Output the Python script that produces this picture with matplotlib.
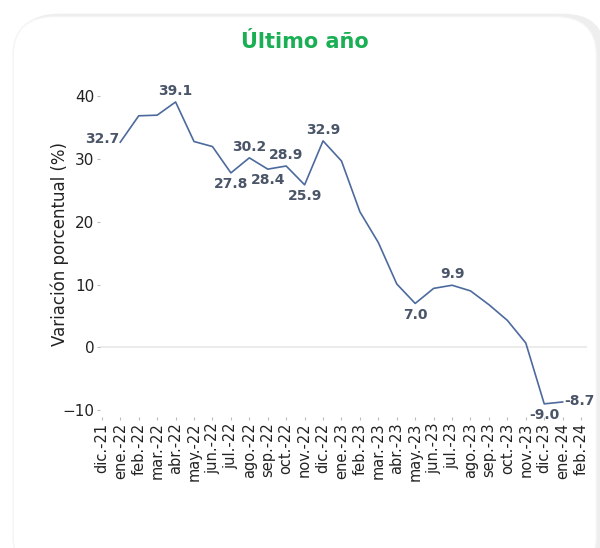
import numpy as np
import matplotlib.pyplot as plt
from matplotlib.patches import FancyBboxPatch

# meses (eje categórico)
meses = ['dic.-21', 'ene.-22', 'feb.-22', 'mar.-22', 'abr.-22', 'may.-22', 'jun.-22',
         'jul.-22', 'ago.-22', 'sep.-22', 'oct.-22', 'nov.-22', 'dic.-22', 'ene.-23',
         'feb.-23', 'mar.-23', 'abr.-23', 'may.-23', 'jun.-23', 'jul.-23', 'ago.-23',
         'sep.-23', 'oct.-23', 'nov.-23', 'dic.-23', 'ene.-24', 'feb.-24']

# variación porcentual (sin dato en los extremos)
variacion = [np.nan, 32.7, 36.9, 37.0, 39.1, 32.8, 32.0, 27.8, 30.2, 28.4, 28.9, 25.9,
             32.9, 29.7, 21.6, 16.7, 10.1, 7.0, 9.4, 9.9, 9.0, 6.8, 4.3, 0.7, -9.0, -8.7,
             np.nan]

# etiquetas visibles: (indice, posicion)
etiquetas = {1: 'left', 4: 'above', 7: 'below', 8: 'above', 9: 'below', 10: 'above',
             11: 'below', 12: 'above', 17: 'below', 19: 'above', 24: 'below', 25: 'right'}

color_linea = '#4c6a9c'
color_texto = '#4a5568'

fig = plt.figure(figsize=(6, 5.48), dpi=100)
fig.patch.set_facecolor('white')

# tarjeta de fondo
sombra = FancyBboxPatch((0.028, -0.06), 0.98, 1.035, boxstyle='round,pad=0,rounding_size=0.07',
                        transform=fig.transFigure, facecolor='#eeeeee', edgecolor='none',
                        zorder=-2)
tarjeta = FancyBboxPatch((0.022, -0.05), 0.972, 1.02, boxstyle='round,pad=0,rounding_size=0.07',
                         transform=fig.transFigure, facecolor='white', edgecolor='#f4f4f4',
                         linewidth=1, zorder=-1)
fig.patches.extend([sombra, tarjeta])

fig.text(0.508, 0.923, 'Último año', ha='center', va='center', fontsize=15,
         fontweight='bold', color='#1aaf54')

ax = fig.add_axes([0.1667, 0.239, 0.811, 0.631])
ax.set_zorder(2)
ax.set_facecolor('none')
x = np.arange(len(meses))
ax.plot(x, variacion, color=color_linea, linewidth=1.2, zorder=3)
ax.axhline(0, color='#e8e8e8', linewidth=1.2, zorder=1)

for i, pos in etiquetas.items():
    v = variacion[i]
    offs = {'above': (0, 3, 'center', 'bottom'), 'below': (0, -3, 'center', 'top'),
            'left': (-1, 2, 'right', 'center'), 'right': (1, 1, 'left', 'center')}[pos]
    ax.annotate(f'{v:.1f}', (i, v), xytext=offs[:2],
                textcoords='offset points', ha=offs[2], va=offs[3], fontsize=10,
                fontweight='bold', color=color_texto, zorder=4)

ax.set_xlim(-0.1, 26.3)
ax.set_ylim(-11.1, 44)
ax.set_xticks(x)
ax.set_xticklabels(meses, rotation=90, fontsize=10.5, color='#222222')
ax.set_yticks([-10, 0, 10, 20, 30, 40])
ax.set_yticklabels(['\u221210', '0', '10', '20', '30', '40'], fontsize=11, color='#222222')
ax.tick_params(length=2, width=0.8, color='#bbbbbb', pad=2)
ax.set_ylabel('Variación porcentual (%)', fontsize=12, color='#222222', labelpad=-5)
for s in ax.spines.values():
    s.set_visible(False)

plt.savefig('out.png', dpi=100)
